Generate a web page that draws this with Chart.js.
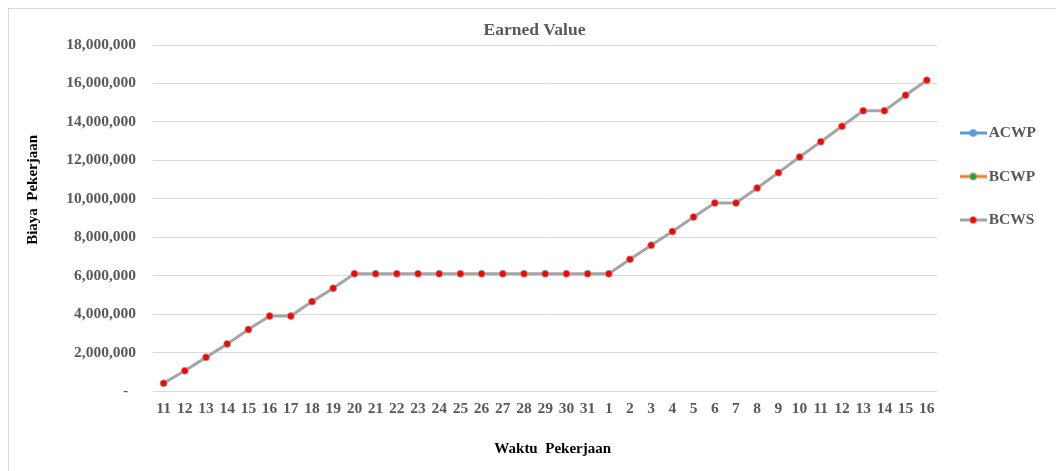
<!DOCTYPE html>
<html>
<head>
<meta charset="utf-8">
<script src="https://cdn.jsdelivr.net/npm/chart.js@4/dist/chart.umd.min.js"></script>
<style>
  html, body { margin: 0; padding: 0; background: #fff; overflow: hidden; }
  #frame {
    position: absolute; left: 8px; top: 8px; width: 1100px; height: 500px;
    border: 1px solid #d9d9d9; box-sizing: border-box;
  }
  #wrap { position: absolute; left: 0; top: 0; width: 1056px; height: 471px; }
</style>
</head>
<body>
<div id="frame"></div>
<div id="wrap"><canvas id="evChart"></canvas></div>
<script>
const days = [
  '11', '12', '13', '14', '15', '16', '17', '18', '19', '20',
  '21', '22', '23', '24', '25', '26', '27', '28', '29', '30', '31',
  '1', '2', '3', '4', '5', '6', '7', '8', '9', '10',
  '11', '12', '13', '14', '15', '16',
];
const acwp = [];
const bcwp = [];
const bcws = [
  400000, 1050000, 1750000, 2450000, 3200000, 3900000, 3900000, 4650000, 5350000, 6100000,
  6100000, 6100000, 6100000, 6100000, 6100000, 6100000, 6100000, 6100000, 6100000, 6100000, 6100000,
  6100000, 6850000, 7580000, 8300000, 9050000, 9780000, 9780000, 10560000, 11360000, 12170000,
  12970000, 13770000, 14580000, 14580000, 15390000, 16170000,
];
const yTicks = [0, 2000000, 4000000, 6000000, 8000000, 10000000, 12000000, 14000000, 16000000, 18000000];

const SERIF = "'Liberation Serif', 'Times New Roman', serif";
const GREY_TEXT = '#595959';

// little line+dot icons for the legend, like Excel's
function legendIcon(lineColor, dotColor) {
  const c = document.createElement('canvas');
  c.width = 27;
  c.height = 10;
  const g = c.getContext('2d');
  g.strokeStyle = lineColor;
  g.lineWidth = 3;
  g.beginPath();
  g.moveTo(0, 5);
  g.lineTo(27, 5);
  g.stroke();
  g.fillStyle = dotColor;
  g.beginPath();
  g.arc(13.5, 5, 3.5, 0, Math.PI * 2);
  g.fill();
  g.lineWidth = 0.75;
  g.strokeStyle = lineColor;
  g.stroke();
  return c;
}

const icons = [
  legendIcon('#5b9bd5', '#5b9bd5'),
  legendIcon('#ed7d31', '#00b050'),
  legendIcon('#a5a5a5', '#ff0000'),
];

function fmt(v) {
  if (v === 0) return '-  ';
  return v.toLocaleString('en-US');
}

new Chart(document.getElementById('evChart'), {
  type: 'line',
  data: {
    labels: days,
    datasets: [
      {
        label: 'ACWP',
        data: acwp,
        borderColor: '#5b9bd5',
        backgroundColor: '#5b9bd5',
        borderWidth: 3,
        pointRadius: 3.5,
      },
      {
        label: 'BCWP',
        data: bcwp,
        borderColor: '#ed7d31',
        backgroundColor: '#00b050',
        borderWidth: 3,
        pointRadius: 3.5,
      },
      {
        label: 'BCWS',
        data: bcws,
        borderColor: '#a5a5a5',
        backgroundColor: '#ff0000',
        pointBackgroundColor: '#ff0000',
        pointBorderColor: '#a5a5a5',
        pointBorderWidth: 0.75,
        borderWidth: 3,
        pointRadius: 3.5,
        tension: 0,
      },
    ],
  },
  options: {
    responsive: true,
    maintainAspectRatio: false,
    animation: false,
    layout: { padding: { left: 23, right: 10, top: 0, bottom: 0 } },
    plugins: {
      title: {
        display: true,
        text: 'Earned Value',
        color: GREY_TEXT,
        font: { family: SERIF, size: 17.5, weight: 'bold' },
        padding: { top: 19.5, bottom: 4.5 },
      },
      legend: {
        position: 'right',
        align: 'start',
        fullSize: false,
        title: {
          display: true,
          text: ' ',
          font: { size: 12 },
          padding: { top: 37.85, bottom: 0 },
        },
        labels: {
          usePointStyle: true,
          pointStyleWidth: 15.5,
          padding: 28,
          color: GREY_TEXT,
          font: { family: SERIF, size: 15.5, weight: 'bold' },
          generateLabels: (chart) => {
            const items = Chart.defaults.plugins.legend.labels.generateLabels(chart);
            items.forEach((it, i) => { it.pointStyle = icons[i]; });
            return items;
          },
        },
      },
      tooltip: { enabled: false },
    },
    scales: {
      x: {
        offset: true,
        grid: { display: false, drawTicks: false },
        border: { display: false },
        ticks: {
          color: GREY_TEXT,
          font: { family: SERIF, size: 15.5, weight: 'bold' },
          padding: 9,
          maxRotation: 0,
          autoSkip: false,
        },
        title: {
          display: true,
          text: '\u00a0'.repeat(4) + 'Waktu  Pekerjaan',
          color: '#000',
          font: { family: SERIF, size: 15, weight: 'bold' },
          padding: { top: 0, bottom: 12.4 },
        },
        afterFit: (scale) => { scale.width = scale.width; scale.height = 80; },
      },
      y: {
        min: 0,
        max: 18000000,
        grid: { color: '#d9d9d9', lineWidth: 1, drawTicks: false },
        border: { display: false },
        afterBuildTicks: (scale) => { scale.ticks = yTicks.map((v) => ({ value: v })); },
        ticks: {
          color: GREY_TEXT,
          font: { family: SERIF, size: 15.5, weight: 'bold' },
          padding: 17,
          callback: (v) => fmt(v),
        },
        title: {
          display: true,
          text: '\u00a0'.repeat(15) + 'Biaya  Pekerjaan',
          color: '#000',
          font: { family: SERIF, size: 15, weight: 'bold' },
          padding: { top: 1, bottom: 0 },
        },
        afterFit: (scale) => { scale.width = 130; },
      },
    },
  },
});
</script>
</body>
</html>
